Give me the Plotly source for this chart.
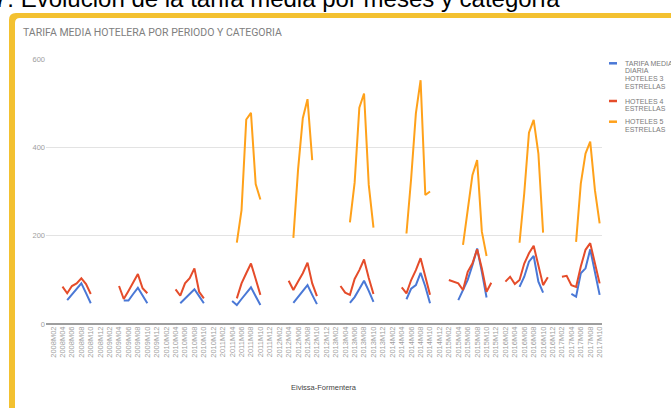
import plotly.graph_objects as go

# Monthly categories 2008M01 .. 2017M10
categories = [f"{y}M{m:02d}" for y in range(2008, 2018) for m in range(1, 13)][:118]
tick_labels = categories[1::2]

N = None
# Average daily rate, 3-star hotels (one row per year, Jan..Dec)
tarifa_3 = [
    N, N, N, N, 54, 67, 79.5, 92, 70, 47, N, N,        # 2008
    N, N, N, N, 53, 53, 68, 82, 64.5, 47, N, N,        # 2009
    N, N, N, N, 47, 58, 68, 78.6, 63, 47, N, N,        # 2010
    N, N, N, 52, 43, 56.6, 70, 83, 63, 43, N, N,       # 2011
    N, N, N, N, 48, 61, 75, 88, 66, 45, N, N,          # 2012
    N, N, N, N, 48, 61, 79, 98, 75, 50, N, N,          # 2013
    N, N, N, N, 56, 80, 88, 116, 85, 47, N, N,         # 2014
    N, N, N, 54, 79, 100, 133, 171, 118, 60, N, N,     # 2015
    N, N, N, N, 84, 107, 141, 154, 96, 71, N, N,       # 2016
    N, N, N, 68, 62, 115, 126, 169, 115, 66,           # 2017
]
# 4-star hotels
tarifa_4 = [
    N, N, N, 84.5, 69.5, 86, 92, 103.5, 90.5, 68, N, N,      # 2008
    N, N, N, 86, 56.6, 75, 94, 113, 81, 69.5, N, N,          # 2009
    N, N, N, 78.6, 64, 92, 103.5, 126, 73, 58, N, N,         # 2010
    N, N, N, N, 58, 92, 115, 137, 102, 66, N, N,             # 2011
    N, N, N, 98, 77, 96, 115, 139, 92, 63, N, N,             # 2012
    N, N, 86, 71, 66, 102, 122, 146, 104, 68, N, N,          # 2013
    N, N, N, 83, 69.5, 99.6, 122, 149, 107, 66, N, N,        # 2014
    N, 99.6, 96, 92, 77, 118, 137, 169, 126, 73, 93.5, N,    # 2015
    N, 96, 107, 90.6, 99.6, 137, 160, 177, 130, 88, 106, N,  # 2016
    N, 107, 109, 88, 84, 130, 168, 183, 137, 92,             # 2017
]
# 5-star hotels
tarifa_5 = [
    N, N, N, N, N, N, N, N, N, N, N, N,                # 2008
    N, N, N, N, N, N, N, N, N, N, N, N,                # 2009
    N, N, N, N, N, N, N, N, N, N, N, N,                # 2010
    N, N, N, N, 184, 258, 463, 478, 317, 282, N, N,    # 2011
    N, N, N, N, 195, 350, 466, 509, 371, N, N, N,      # 2012
    N, N, N, N, 230, 320, 490, 522, 315, 218, N, N,    # 2013
    N, N, N, N, 205, 330, 477, 552, 292, 300, N, N,    # 2014
    N, N, N, N, 179, 262, 337, 371, 209, 154, N, N,    # 2015
    N, N, N, N, 184, 296, 433, 462, 386, 207, N, N,    # 2016
    N, N, N, N, 186, 318, 386, 413, 303, 228,          # 2017
]

series = [
    ("TARIFA MEDIA DIARIA HOTELES 3 ESTRELLAS", tarifa_3, "#4a78d6"),
    ("HOTELES 4 ESTRELLAS", tarifa_4, "#e54c2a"),
    ("HOTELES 5 ESTRELLAS", tarifa_5, "#ffa11a"),
]

W, H = 671, 408
L, R, T, B = 46, 602, 59, 324


def px(x):
    return (x - L) / (R - L)


def py(y):
    return (B - y) / (B - T)


fig = go.Figure()
for name, vals, color in series:
    fig.add_trace(go.Scatter(
        x=categories, y=vals, name=name, mode="lines",
        line=dict(color=color, width=2), connectgaps=False,
        showlegend=False,
    ))

grey = "#7a7a7a"
annotations = [
    dict(text="7. Evolución de la tarifa media por meses y categoría",
         x=px(-8), y=py(14.4), xanchor="left", yanchor="bottom",
         font=dict(family="Arial", size=24, color="#000000")),
    dict(text="TARIFA MEDIA HOTELERA POR PERIODO Y CATEGORIA",
         x=px(21), y=py(32.5), xanchor="left", yanchor="middle",
         font=dict(family="Roboto", size=10.5, color="#808080")),
    dict(text="Eivissa-Formentera", x=px(324), y=py(387),
         xanchor="center", yanchor="middle",
         font=dict(family="Arial", size=7.5, color="#444444")),
]

# Legend drawn at the right of the plot
legend_rows = [
    ("#4a78d6", 63.3, ["TARIFA MEDIA", "DIARIA", "HOTELES 3", "ESTRELLAS"]),
    ("#e54c2a", 101, ["HOTELES 4", "ESTRELLAS"]),
    ("#ffa11a", 121.7, ["HOTELES 5", "ESTRELLAS"]),
]
shapes = []
for color, y0, lines in legend_rows:
    shapes.append(dict(type="line", xref="paper", yref="paper",
                       x0=px(609), x1=px(617), y0=py(y0), y1=py(y0),
                       line=dict(color=color, width=2.5)))
    for k, txt in enumerate(lines):
        annotations.append(dict(
            text=txt, x=px(623), y=py(y0 + k * 7.6), xanchor="left",
            yanchor="middle", font=dict(family="Arial", size=7, color=grey)))

# Yellow frame around the card
frame = (f"M {px(9)},{py(420)} L {px(9)},{py(20)} "
         f"Q {px(9)},{py(13)} {px(16)},{py(13)} L {px(700)},{py(13)} "
         f"L {px(700)},{py(18)} L {px(20)},{py(18)} "
         f"Q {px(15)},{py(18)} {px(15)},{py(23)} L {px(15)},{py(420)} Z")
shapes.append(dict(type="path", xref="paper", yref="paper", path=frame,
                   fillcolor="#f3c130", line=dict(width=0), layer="above"))
for a in annotations:
    a.update(xref="paper", yref="paper", showarrow=False)

fig.update_layout(
    width=W, height=H, autosize=False,
    margin=dict(l=L, r=W - R, t=T, b=H - B, pad=0),
    paper_bgcolor="white", plot_bgcolor="white",
    annotations=annotations, shapes=shapes,
    xaxis=dict(type="category", range=[-0.5, 117.5], tickmode="array",
               tickvals=tick_labels, ticktext=tick_labels, tickangle=-90,
               showgrid=False, showline=False, zeroline=False, ticks="",
               tickfont=dict(family="Arial", size=7.5, color="#a0a0a0")),
    yaxis=dict(range=[0, 600], tickvals=[0, 200, 400, 600],
               showgrid=True, gridcolor="#e3e3e3", gridwidth=1,
               zeroline=True, zerolinecolor="#9e9e9e", zerolinewidth=2,
               showline=False, ticks="",
               tickfont=dict(family="Arial", size=7.5, color="#9e9e9e")),
)

fig.write_html("out.html")
